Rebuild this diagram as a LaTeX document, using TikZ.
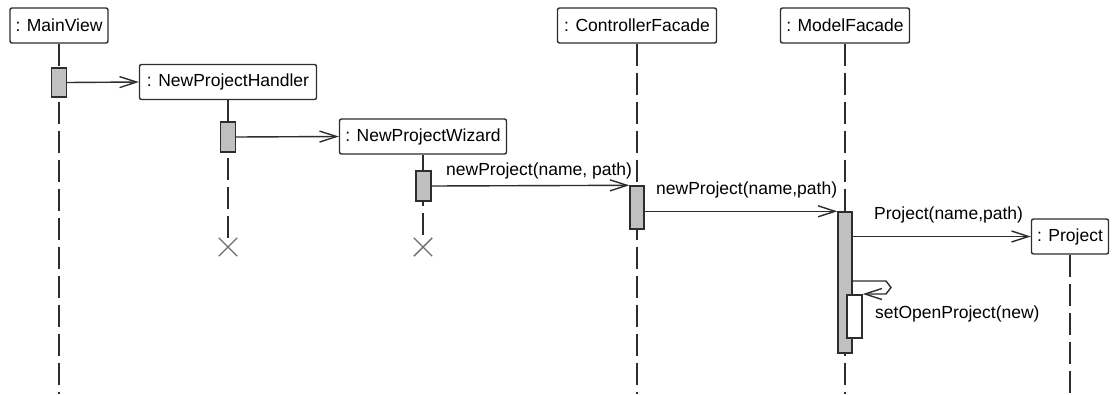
\documentclass[tikz,border=0pt]{standalone}
\usepackage{fontspec}
\setmainfont{Liberation Sans}
\usetikzlibrary{arrows.meta,shapes.misc}
\definecolor{ink}{RGB}{45,45,45}
\definecolor{actfill}{RGB}{192,192,192}
\definecolor{xgray}{RGB}{110,110,110}
\begin{document}
\begin{tikzpicture}[x=1pt,y=-1pt,
  font=\fontsize{17.5}{20}\selectfont,
  obj/.style={draw=ink,line width=1.4pt,rounded corners=2pt,fill=white,
    text=black,minimum height=35pt,inner sep=0pt,anchor=center},
  act/.style={draw=ink,line width=1.4pt,fill=actfill,inner sep=0pt,
    minimum width=15pt,anchor=center},
  nestact/.style={act,fill=white},
  life/.style={draw=ink,line width=1.4pt,dash pattern=on 22pt off 7pt},
  msg/.style={draw=ink,line width=1.4pt,
    -{Straight Barb[length=17pt,width=11pt,line width=1.4pt]}},
  lbl/.style={text=black,inner sep=0pt,anchor=base west},
  destroy/.style={draw=xgray,cross out,line width=1.4pt,minimum size=17pt,inner sep=0pt}]
\useasboundingbox (0,0) rectangle (1113,394);

% participants
\node[obj,minimum width=98pt]  (mv)  at (59,25.5)    {: MainView};
\node[obj,minimum width=177pt] (nph) at (228,82)     {: NewProjectHandler};
\node[obj,minimum width=167pt] (npw) at (423,136.5)  {: NewProjectWizard};
\node[obj,minimum width=159pt] (cf)  at (637,25.5)   {: ControllerFacade};
\node[obj,minimum width=129pt] (mf)  at (845,25.5)   {: ModelFacade};
\node[obj,minimum width=77pt]  (pj)  at (1070,236.5) {: Project};

% ends of the lifelines
\coordinate (mvend) at (59,394);
\coordinate (cfend) at (637,394);
\coordinate (mfend) at (845,394);
\coordinate (pjend) at (1070,394);
\node[destroy] (nphx) at (228,247) {};
\node[destroy] (npwx) at (423,247) {};

% lifelines
\draw[life] (mv.south) -- (mvend);
\draw[life] (nph.south) -- (nphx.north);
\draw[life] (npw.south) -- (npwx.north);
\draw[life] (cf.south) -- (cfend);
\draw[life] (mf.south) -- (mfend);
\draw[life] (pj.south) -- (pjend);

% activation bars
\node[act,minimum height=29pt]  (mva) at (59,82.5)   {};
\node[act,minimum height=30pt]  (nha) at (228,137)   {};
\node[act,minimum height=30pt]  (nwa) at (423.5,186) {};
\node[act,minimum height=43pt,minimum width=14pt]  (cfa) at (637,207.5) {};
\node[act,minimum height=141pt,minimum width=14pt] (mfa) at (845,282.5) {};
\node[nestact,minimum height=43pt] (sop) at (854.5,316.5) {};

% messages
\draw[msg] (mva.east) -- (nph.west);
\draw[msg] (nha.east) -- (npw.west);
\draw[msg] (nwa.east) -- (cfa.north west);
\draw[msg] (cfa.east |- mfa.north) -- (mfa.north west);
\draw[msg] (mfa.east |- pj.west) -- (pj.west);

% self call
\coordinate (selfout) at (mfa.east |- 0,281);
\draw[msg] (selfout) -- (886,281) -- (891,287.5) -- (886,294) -- (sop.north east |- 0,294);

% message labels
\node[lbl] (l1) at (446,175) {newProject(name, path)};
\node[lbl] (l2) at (656,194) {newProject(name,path)};
\node[lbl] (l3) at (874,219) {Project(name,path)};
\node[lbl] (l4) at (875,318) {setOpenProject(new)};
\end{tikzpicture}
\end{document}
